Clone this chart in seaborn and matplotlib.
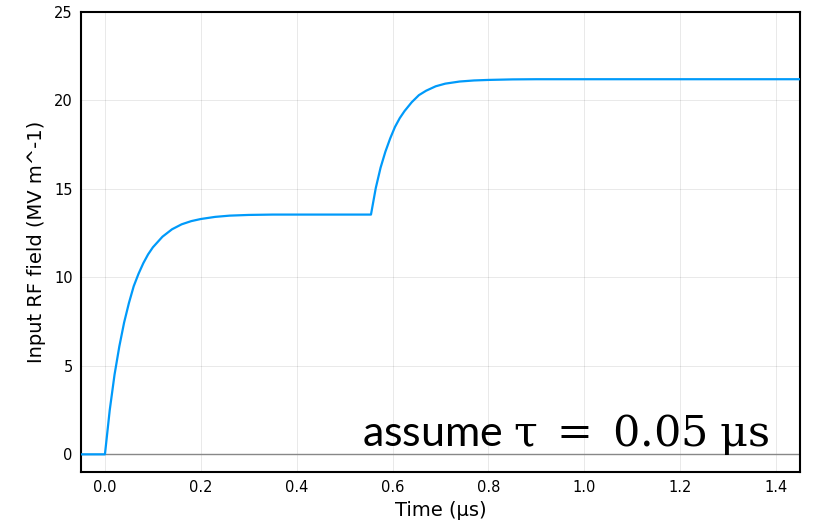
import matplotlib
matplotlib.use("Agg")
import matplotlib.pyplot as plt
import seaborn as sns

# values
time_us = [-0.05, 0.0, 0.01, 0.02, 0.03, 0.04, 0.05, 0.06, 0.07, 0.08, 0.09,
           0.10, 0.12, 0.14, 0.16, 0.18, 0.20, 0.23, 0.26, 0.30, 0.35, 0.40,
           0.555, 0.565, 0.575, 0.585, 0.595, 0.605, 0.615, 0.625, 0.64,
           0.655, 0.67, 0.69, 0.71, 0.74, 0.77, 0.80, 0.85, 0.90, 1.0, 1.45]
field_mv = [0.0, 0.0, 2.5, 4.5, 6.1, 7.45, 8.55, 9.5, 10.2, 10.8, 11.3,
            11.7, 12.3, 12.72, 13.0, 13.18, 13.3, 13.42, 13.49, 13.53, 13.55, 13.55,
            13.55, 15.05, 16.2, 17.1, 17.85, 18.5, 19.0, 19.4, 19.9,
            20.3, 20.55, 20.8, 20.95, 21.07, 21.13, 21.16, 21.19, 21.2, 21.2, 21.2]
x_ticks = [0.0, 0.2, 0.4, 0.6, 0.8, 1.0, 1.2, 1.4]
y_ticks = [0, 5, 10, 15, 20, 25]

sns.set_theme(style="white")
plt.rcParams["font.family"] = ["DejaVu Sans"]
plt.rcParams["text.color"] = "black"
plt.rcParams["axes.labelcolor"] = "black"
plt.rcParams["mathtext.fontset"] = "custom"
plt.rcParams["mathtext.rm"] = "DejaVu Serif"
plt.rcParams["mathtext.it"] = "DejaVu Serif:italic"

fig = plt.figure(figsize=(8.13, 5.21), dpi=100)
ax = fig.add_axes([0.0996, 0.094, 0.8844, 0.883])

ax.axhline(0, color="#888888", lw=1.0, zorder=1)
sns.lineplot(x=time_us, y=field_mv, ax=ax, color="#009AFA", lw=1.6, zorder=3)

ax.set_xlim(-0.05, 1.45)
ax.set_ylim(-1, 25)
ax.set_xticks(x_ticks)
ax.set_xticklabels([f"{t:.1f}" for t in x_ticks])
ax.set_yticks(y_ticks)
ax.set_yticklabels([str(v) for v in y_ticks])
ax.grid(True, color="black", alpha=0.1, lw=0.6)
ax.tick_params(direction="in", length=3, width=0.6, colors="#555555",
               labelsize=10.5, labelcolor="black", pad=6)
for s in ax.spines.values():
    s.set_color("black")
    s.set_linewidth(1.5)

ax.set_xlabel("Time (μs)", fontsize=14, labelpad=4)
ax.set_ylabel("Input RF field (MV m^-1)", fontsize=14, labelpad=6)

ax.text(1.385, 0.45, r"assume $\mathrm{\tau\;=\;0.05\;\mu s}$", fontsize=31,
        family="Lato", color="black", ha="right", va="baseline", zorder=4)

fig.savefig("out.png", dpi=100)
